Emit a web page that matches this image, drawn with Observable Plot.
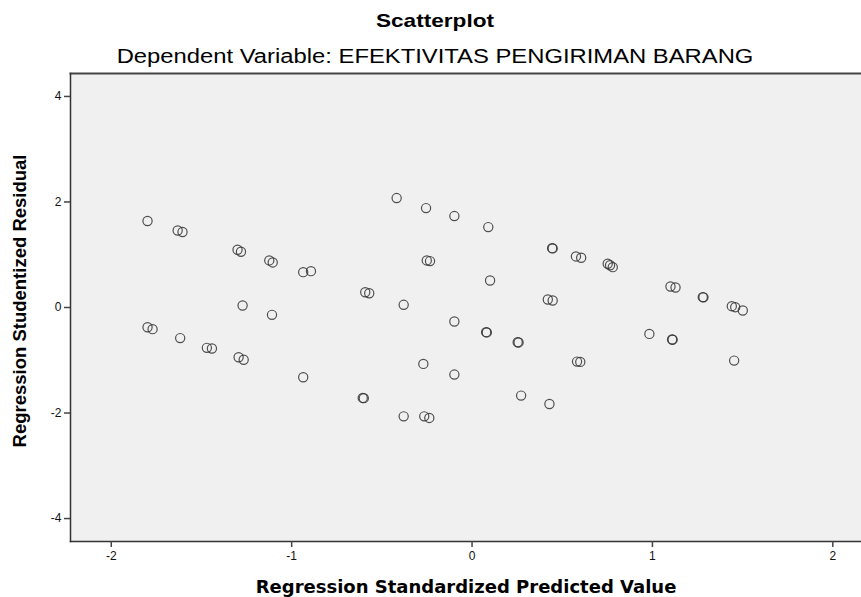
<!DOCTYPE html>
<html>
<head>
<meta charset="utf-8">
<script src="https://cdn.jsdelivr.net/npm/d3@7"></script>
<script src="https://cdn.jsdelivr.net/npm/@observablehq/plot@0.6"></script>
<style>
  html, body { margin: 0; padding: 0; background: #fff; }
  #wrap { position: relative; width: 861px; height: 597px; overflow: hidden; font-family: "Liberation Sans", Arial, sans-serif; }
  #head { position: relative; width: 861px; height: 60px; }
  #title { position: absolute; left: 35px; width: 800px; top: 11px; text-align: center; font-weight: bold; font-size: 19px; color: #000; line-height: 19px; transform: scaleX(1.19); transform-origin: 50% 50%; white-space: nowrap; }
  #subtitle { position: absolute; left: 35px; width: 800px; top: 46px; text-align: center; font-size: 20px; color: #000; line-height: 20px; transform: scaleX(1.19); transform-origin: 50% 50%; white-space: nowrap; }
  #chart svg { display: block; }
</style>
</head>
<body>
<div id="wrap">
  <div id="head">
    <div id="title">Scatterplot</div>
    <div id="subtitle">Dependent Variable: EFEKTIVITAS PENGIRIMAN BARANG</div>
  </div>
  <div id="chart"></div>
</div>
<script>
// Regression Standardized Predicted Value (x) and Regression Studentized Residual (y)
const predicted = [
  -1.799, -1.632, -1.605, -1.300, -1.281, -1.124, -1.105, -1.272, -1.109,
  -1.799, -1.771, -1.618, -1.470, -1.442, -1.294, -1.266,
  -0.418, -0.255, -0.098, 0.090, 0.444, 0.447, 0.576, 0.605,
  -0.936, -0.893, -0.251, -0.233, 0.100, -0.592, -0.570, -0.379,
  0.420, 0.447, -0.098, 0.078, 0.082, 0.253, 0.258,
  0.582, 0.600, -0.936, -0.270, -0.098, -0.606, -0.600, 0.272, 0.429,
  -0.379, -0.265, -0.237,
  0.752, 0.765, 0.780, 1.100, 1.128, 1.279, 1.283,
  1.440, 1.459, 1.501, 0.983, 1.109, 1.112, 1.453
];
const residual = [
  1.64, 1.46, 1.43, 1.095, 1.057, 0.892, 0.854, 0.038, -0.139,
  -0.374, -0.41, -0.58, -0.765, -0.778, -0.942, -0.99,
  2.074, 1.884, 1.733, 1.524, 1.125, 1.12, 0.968, 0.943,
  0.670, 0.689, 0.892, 0.879, 0.512, 0.290, 0.271, 0.051,
  0.152, 0.133, -0.266, -0.468, -0.472, -0.658, -0.662,
  -1.025, -1.031, -1.322, -1.069, -1.271, -1.714, -1.718, -1.67, -1.828,
  -2.063, -2.063, -2.093,
  0.829, 0.80, 0.765, 0.398, 0.380, 0.196, 0.192,
  0.025, 0.006, -0.057, -0.50, -0.607, -0.61, -1.006
];
const xTicks = [-2, -1, 0, 1, 2];
const yTicks = [-4, -2, 0, 2, 4];
const xLabel = "Regression Standardized Predicted Value";
const yLabel = "Regression Studentized Residual";

const data = predicted.map((x, i) => ({x, y: residual[i]}));
const fmt = d => d < 0 ? "-" + Math.abs(d) : String(d);

const chart = Plot.plot({
  width: 861,
  height: 537,
  marginLeft: 70,
  marginRight: 0,
  marginTop: 13,
  marginBottom: 56,
  style: {fontFamily: "'Liberation Sans', Arial, sans-serif", background: "#fff"},
  x: {domain: [-2.226, 2.159], label: null},
  y: {domain: [-4.435, 4.435], label: null},
  marks: [
    Plot.frame({fill: "#f0f0f0", stroke: null}),
    Plot.frame({anchor: "top", stroke: "#444", strokeWidth: 2}),
    Plot.frame({anchor: "left", stroke: "#333", strokeWidth: 1.5}),
    Plot.frame({anchor: "bottom", stroke: "#333", strokeWidth: 1.5}),
    Plot.axisX({ticks: xTicks, tickSize: 6, stroke: "#444", strokeWidth: 1.5, fontSize: 12, fill: "#111", tickPadding: 4, label: null, tickFormat: fmt}),
    Plot.axisY({ticks: yTicks, tickSize: 6, stroke: "#444", strokeWidth: 1.5, fontSize: 12, fill: "#111", tickPadding: 3, label: null, tickFormat: fmt}),
    Plot.dot(data, {x: "x", y: "y", r: 4.6, stroke: "#333", strokeWidth: 1.2, fill: "none", strokeOpacity: 0.85}),
    Plot.text([xLabel], {frameAnchor: "bottom", lineAnchor: "middle", text: d => d, dy: 46, fontSize: 18, fontWeight: "bold", fontFamily: "'DejaVu Sans', sans-serif", fill: "#000"}),
    Plot.text([yLabel], {frameAnchor: "left", textAnchor: "middle", lineAnchor: "middle", text: d => d, rotate: -90, dx: -50, dy: -6.5, fontSize: 18.5, fontWeight: "bold", fontFamily: "'Liberation Sans', Arial, sans-serif", fill: "#000"})
  ]
});
document.getElementById("chart").appendChild(chart);
</script>
</body>
</html>
